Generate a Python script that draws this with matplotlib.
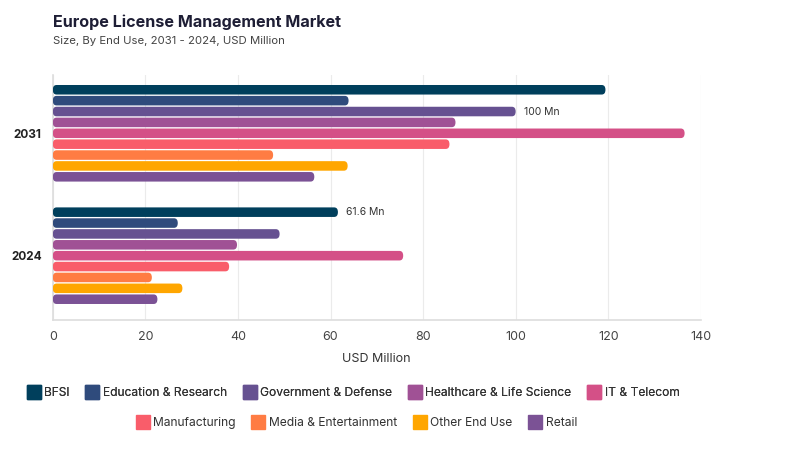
import matplotlib.pyplot as plt
import numpy as np
from matplotlib.lines import Line2D
from matplotlib.patches import FancyBboxPatch

plt.rcParams['font.family'] = ['Inter', 'DejaVu Sans']

years = ['2031', '2024']
segments = ['BFSI', 'Education & Research', 'Government & Defense',
            'Healthcare & Life Science', 'IT & Telecom', 'Manufacturing',
            'Media & Entertainment', 'Other End Use', 'Retail']
colors = ['#003f5c', '#2f4b7c', '#665191', '#a05195', '#d45087',
          '#f95d6a', '#ff7c43', '#ffa600', '#7b5295']
values_2031 = [119.4, 63.9, 100.0, 87.0, 136.5, 85.7, 47.6, 63.7, 56.5]
values_2024 = [61.6, 27.0, 49.0, 39.8, 75.7, 38.1, 21.4, 28.0, 22.6]
labels = {('2031', 'Government & Defense'): '100 Mn',
          ('2024', 'BFSI'): '61.6 Mn'}

fig = plt.figure(figsize=(8, 4.5), dpi=100)
ax = fig.add_axes([0.066, 0.289, 0.81, 0.544])

centers = {'2031': 1, '2024': 0}
step = 0.8 / len(segments)
thick = 0.078
for year, vals in zip(years, [values_2031, values_2024]):
    for i, (seg, v) in enumerate(zip(segments, vals)):
        y = centers[year] + (4 - i) * step
        p = FancyBboxPatch((0, y - thick / 2), v, thick,
                           boxstyle='round,pad=0,rounding_size=0.8',
                           mutation_aspect=thick / 1.6,
                           facecolor=colors[i], edgecolor='none', zorder=3)
        ax.add_patch(p)
        if (year, seg) in labels:
            ax.text(v + 1.8, y, labels[(year, seg)], va='center', ha='left',
                    fontsize=7.5, color='#333333')

ax.set_xlim(0, 140)
ax.set_ylim(-0.525, 1.475)
ax.set_xticks(np.arange(0, 141, 20))
ax.set_yticks([centers[y] for y in years])
ax.set_yticklabels(years, fontweight='bold', fontsize=8.5, color='#222222')
ax.tick_params(axis='x', labelsize=9, colors='#444444', length=0, pad=8)
ax.tick_params(axis='y', length=0, pad=8)
ax.grid(axis='x', color='#ebebeb', linewidth=0.8, zorder=0)
for s in ['top', 'right']:
    ax.spines[s].set_visible(False)
ax.spines['left'].set_color('#dddddd')
ax.spines['bottom'].set_color('#dddddd')
ax.spines['left'].set_linewidth(1.2)
ax.spines['bottom'].set_linewidth(1.2)
ax.set_xlabel('USD Million', fontsize=9, color='#333333', labelpad=7)

fig.text(0.066, 0.951, 'Europe License Management Market', fontsize=11.6,
         fontweight='bold', color='#1e1e35', va='center')
fig.text(0.066, 0.909, 'Size, By End Use, 2031 - 2024, USD Million', fontsize=8.2,
         color='#444444', va='center')

def handles(idx):
    return [Line2D([0], [0], marker='s', linestyle='none', markersize=9.5,
                   markerfacecolor=colors[i], markeredgecolor=colors[i])
            for i in idx]

row1 = list(range(5))
row2 = list(range(5, 9))
leg1 = fig.legend(handles(row1), [segments[i] for i in row1], ncol=5,
                  loc='center', bbox_to_anchor=(0.442, 0.127), frameon=False,
                  fontsize=8.7, handletextpad=0.35, columnspacing=1.4,
                  handlelength=1.0)
fig.legend(handles(row2), [segments[i] for i in row2], ncol=4,
           loc='center', bbox_to_anchor=(0.446, 0.06), frameon=False,
           fontsize=8.7, handletextpad=0.35, columnspacing=1.4,
           handlelength=1.0)
fig.add_artist(leg1)
for leg in fig.legends:
    for t in leg.get_texts():
        t.set_color('#333333')

fig.savefig('out.png', dpi=100)
